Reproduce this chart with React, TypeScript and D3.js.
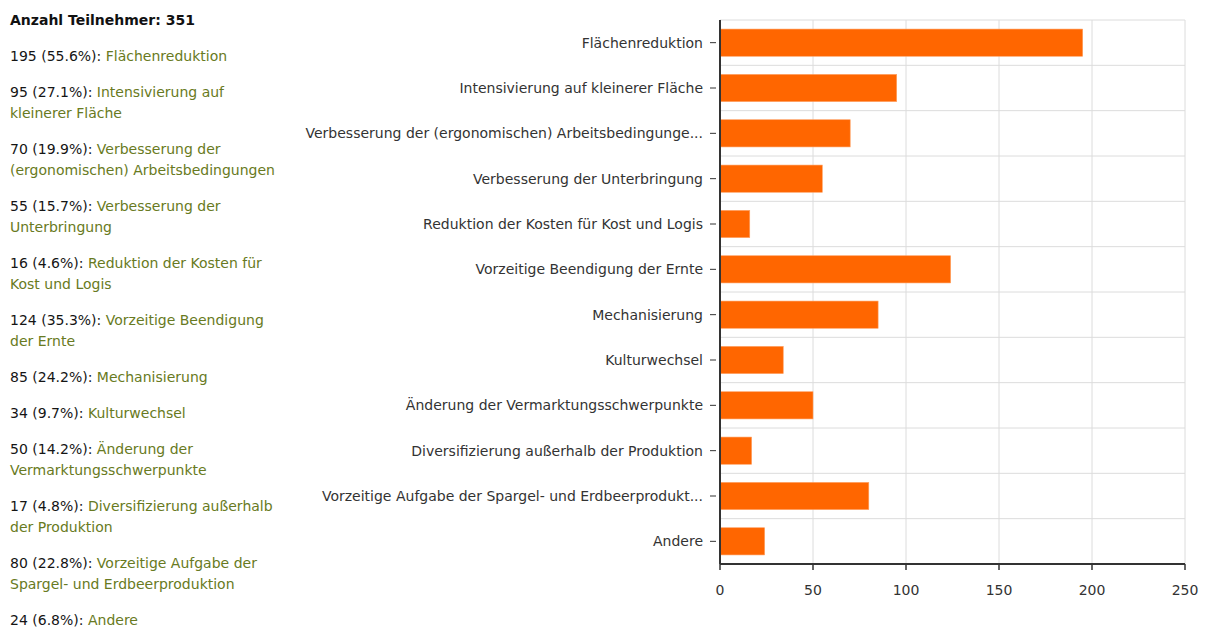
import React from 'react'
import * as d3 from 'd3'

const categories = [
  'Flächenreduktion',
  'Intensivierung auf kleinerer Fläche',
  'Verbesserung der (ergonomischen) Arbeitsbedingungen',
  'Verbesserung der Unterbringung',
  'Reduktion der Kosten für Kost und Logis',
  'Vorzeitige Beendigung der Ernte',
  'Mechanisierung',
  'Kulturwechsel',
  'Änderung der Vermarktungsschwerpunkte',
  'Diversifizierung außerhalb der Produktion',
  'Vorzeitige Aufgabe der Spargel- und Erdbeerproduktion',
  'Andere',
]
const counts = [195, 95, 70, 55, 16, 124, 85, 34, 50, 17, 80, 24]
const percents = ['55.6', '27.1', '19.9', '15.7', '4.6', '35.3', '24.2', '9.7', '14.2', '4.8', '22.8', '6.8']
const participants = 351
const xTicks = [0, 50, 100, 150, 200, 250]

const W = 1211
const H = 627
const FONT = '"DejaVu Sans", Verdana, sans-serif'
const FS = 14

const shorten = (s: string) => (s.length > 50 ? s.slice(0, 50) + '...' : s)

let ctx: CanvasRenderingContext2D | null = null
function textWidth(t: string) {
  if (!ctx) ctx = document.createElement('canvas').getContext('2d')
  ctx!.font = `${FS}px ${FONT}`
  return ctx!.measureText(t).width
}

// greedy word wrap, keeping track of which words belong to the count part
function wrap(head: string, label: string, maxW: number) {
  const words = [
    ...head.split(' ').map(w => ({ w, dark: true })),
    ...label.split(' ').map(w => ({ w, dark: false })),
  ]
  const lines: { w: string; dark: boolean }[][] = [[]]
  let cur = ''
  words.forEach(tok => {
    const next = cur ? cur + ' ' + tok.w : tok.w
    if (cur && textWidth(next) > maxW) {
      lines.push([tok])
      cur = tok.w
    } else {
      lines[lines.length - 1].push(tok)
      cur = next
    }
  })
  return lines
}

const LeftList = () => {
  let y = 25
  const rows: React.ReactNode[] = []
  categories.forEach((c, i) => {
    y += 36
    const lines = wrap(`${counts[i]} (${percents[i]}%):`, c, 280)
    lines.forEach((ln, j) => {
      if (j > 0) y += 21
      rows.push(
        <text key={`${i}-${j}`} x={10} y={y}>
          {ln.map((t, k) => (
            <tspan key={k} fill={t.dark ? '#151515' : '#687a22'}>
              {(k > 0 ? ' ' : '') + t.w}
            </tspan>
          ))}
        </text>
      )
    })
  })
  return (
    <g fontFamily={FONT} fontSize={FS}>
      <text x={10} y={25} fontWeight="bold" fill="#111">
        {`Anzahl Teilnehmer: ${participants}`}
      </text>
      {rows}
    </g>
  )
}

const BarChart = () => {
  const left = 720, right = 1185, top = 20, bottom = 564
  const x = d3.scaleLinear().domain([0, 250]).range([left, right])
  const y = d3.scaleBand<string>().domain(categories).range([top, bottom]).paddingInner(0.4).paddingOuter(0.2)
  const step = y.step()

  return (
    <g fontFamily={FONT} fontSize={FS}>
      {/* grid */}
      {xTicks.slice(1).map(t => (
        <line key={`gx${t}`} x1={x(t)} x2={x(t)} y1={top} y2={bottom} stroke="#dcdcdc" />
      ))}
      {d3.range(categories.length).map(k => (
        <line key={`gy${k}`} x1={left} x2={right} y1={top + k * step} y2={top + k * step} stroke="#dcdcdc" />
      ))}
      {/* bars */}
      {categories.map((c, i) => (
        <rect
          key={c}
          x={x(0)}
          y={y(c)}
          width={x(counts[i]) - x(0)}
          height={y.bandwidth()}
          fill="#ff6600"
          stroke="#ffa060"
          strokeWidth={0.6}
        />
      ))}
      {/* y axis */}
      <line x1={left} x2={left} y1={top} y2={bottom} stroke="#333" strokeWidth={2} />
      {categories.map(c => {
        const cy = (y(c) as number) + y.bandwidth() / 2
        return (
          <g key={`yl${c}`}>
            <line x1={left - 10} x2={left - 4} y1={cy} y2={cy} stroke="#333" />
            <text x={left - 17} y={cy} dy="0.35em" textAnchor="end" fill="#333">
              {shorten(c)}
            </text>
          </g>
        )
      })}
      {/* x axis */}
      <line x1={left} x2={right} y1={bottom} y2={bottom} stroke="#333" strokeWidth={2} />
      {xTicks.map(t => (
        <g key={`xt${t}`}>
          <line x1={x(t)} x2={x(t)} y1={bottom} y2={bottom + 6} stroke="#333" strokeWidth={1.5} />
          <text x={x(t)} y={bottom + 26} dy="0.35em" textAnchor="middle" fill="#333">
            {t}
          </text>
        </g>
      ))}
    </g>
  )
}

export default function App() {
  return (
    <div style={{ position: 'absolute', left: 0, top: 0 }}>
      <svg width={W} height={H} style={{ display: 'block', background: '#fff' }}>
        <LeftList />
        <BarChart />
      </svg>
    </div>
  )
}
